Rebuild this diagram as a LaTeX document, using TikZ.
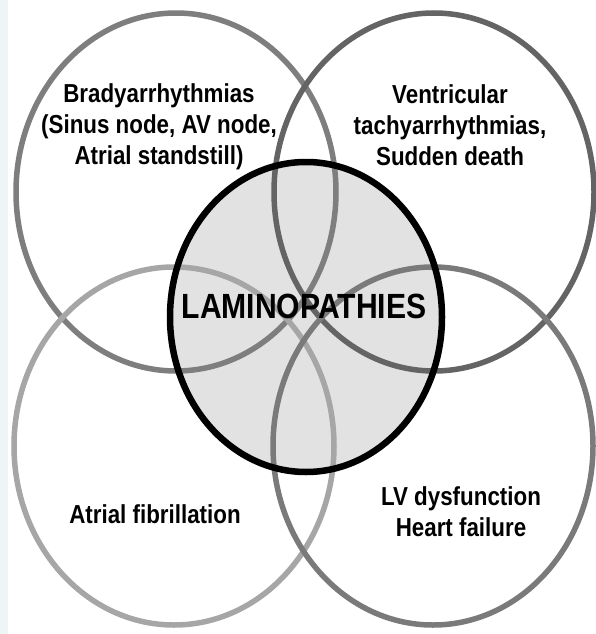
\documentclass[tikz,border=0pt]{standalone}
\usepackage{fontspec}
\setmainfont{Liberation Sans}
\newfontfamily\narrowfont[FakeStretch=0.86]{Liberation Sans}
\usetikzlibrary{shapes.geometric}
\definecolor{stripcol}{HTML}{EDF5F7}
\definecolor{centrefill}{HTML}{E2E2E2}
\definecolor{ringTL}{HTML}{7E7E7E}
\definecolor{ringTR}{HTML}{646464}
\definecolor{ringBL}{HTML}{A6A6A6}
\definecolor{ringBR}{HTML}{7A7A7A}
\tikzset{
  ring/.style={ellipse, draw=#1, line width=5.5pt, inner sep=0pt,
    minimum width=320pt, minimum height=358pt},
  centrering/.style={ellipse, inner sep=0pt, minimum width=272pt, minimum height=310pt},
  lbl/.style={align=center, font=\narrowfont\bfseries\fontsize{26}{31}\selectfont, inner sep=0pt},
  bigl/.style={font=\narrowfont\bfseries\fontsize{35}{40}\selectfont, inner sep=0pt}
}
\begin{document}
\begin{tikzpicture}[x=1pt,y=-1pt]
\useasboundingbox (0,0) rectangle (595,634);
\fill[white] (0,0) rectangle (595,634);
\fill[stripcol] (0,0) rectangle (8,634);
% central fill
\node[centrering, fill=centrefill] (cfill) at (306,317) {};
% outer rings
\node[ring=ringTL] (tl) at (176,192) {};
\node[ring=ringTR] (tr) at (434,192) {};
\node[ring=ringBL] (bl) at (174,446) {};
\node[ring=ringBR] (br) at (433,446) {};
% central ring
\node[centrering, draw=black, line width=6.5pt] (c) at (306,317) {};
% labels
\node[lbl] (ltl) at (159,127) {Bradyarrhythmias\\(Sinus node, AV node,\\Atrial standstill)};
\node[lbl] (ltr) at (450,125) {Ventricular\\tachyarrhythmias,\\Sudden death};
\node[lbl] (lbl) at (155,514) {Atrial fibrillation};
\node[lbl] (lbr) at (461,512) {LV dysfunction\\Heart failure};
\node[bigl] (lc) at (304,306) {LAMINOPATHIES};
\end{tikzpicture}
\end{document}
